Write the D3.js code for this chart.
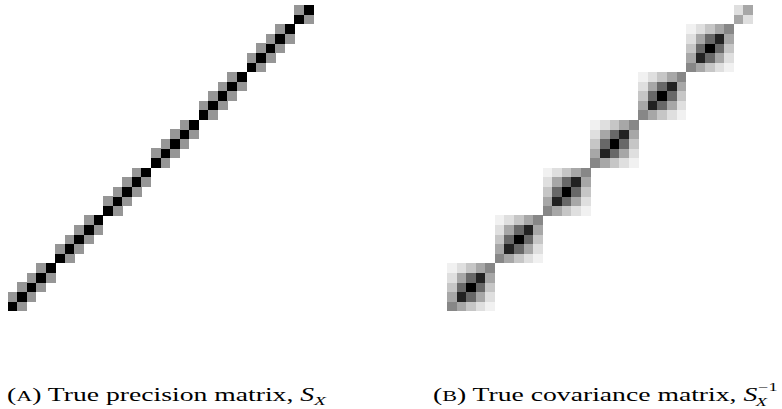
<!DOCTYPE html>
<html>
<head>
<meta charset="utf-8">
<script src="https://cdn.jsdelivr.net/npm/d3@7"></script>
<style>
  body { margin: 0; background: #fff; }
  text { font-family: "Liberation Serif", serif; fill: #000; }
</style>
</head>
<body>
<script>
// Page size, same as the reference picture.
var svg_width = 782;
var svg_height = 409;

// Diagonal blocks of the 32x32 matrices: six blocks of 5, then one of 2.
var block_sizes = [5, 5, 5, 5, 5, 5, 2];

// Precision matrix inside a block: diagonal and neighbour entries (shown as |value|).
var prec_diag = 2;
var prec_off = 1;

// Covariance blocks.
var cov_block5 = [
    [0.83, 0.67, 0.50, 0.33, 0.17],
    [0.67, 1.33, 1.00, 0.67, 0.33],
    [0.50, 1.00, 1.50, 1.00, 0.50],
    [0.33, 0.67, 1.00, 1.33, 0.67],
    [0.17, 0.33, 0.50, 0.67, 0.83]
];
var cov_block2 = [
    [0.67, 0.33],
    [0.33, 0.67]
];

// Caption words.
var caption_a = ["A", ") True precision matrix, "];
var caption_b = ["B", ") True covariance matrix, "];

// Where each panel sits.
var panels = [
    { left: 7.5, top: 5, size: 306 },
    { left: 447, top: 5, size: 306 }
];

var svg = d3.select("body")
    .append("svg")
    .attr("width", svg_width)
    .attr("height", svg_height);

// Build the cell lists from the blocks.
var n = d3.sum(block_sizes);
var prec_cells = [];
var cov_cells = [];
var start = 0;
block_sizes.forEach(function(b) {
    var block = b === 5 ? cov_block5 : cov_block2;
    for (var a = 0; a < b; a++) {
        for (var c = 0; c < b; c++) {
            var p = a === c ? prec_diag : (Math.abs(a - c) === 1 ? prec_off : 0);
            if (p > 0) prec_cells.push({ row: start + a, col: start + c, v: p });
            cov_cells.push({ row: start + a, col: start + c, v: block[a][c] });
        }
    }
    start += b;
});

// matplotlib "Greys" is the same 9 colours as the ColorBrewer scheme.
function greys(vmax) {
    return d3.scaleLinear()
        .domain(d3.range(9).map(function(k) { return vmax * k / 8; }))
        .range(d3.schemeGreys[9])
        .clamp(true);
}

function drawMatrix(panel, cells) {
    var x = d3.scaleBand()
        .domain(d3.range(n))
        .range([panel.left, panel.left + panel.size]);
    // row 0 sits at the bottom
    var y = d3.scaleBand()
        .domain(d3.range(n))
        .range([panel.top + panel.size, panel.top]);
    var color = greys(d3.max(cells, function(d) { return d.v; }));

    svg.append("g")
        .attr("shape-rendering", "crispEdges")
        .selectAll("rect")
        .data(cells)
        .enter()
        .append("rect")
            .attr("x", function(d) { return x(d.col); })
            .attr("y", function(d) { return y(d.row); })
            .attr("width", x.bandwidth() + 0.3)
            .attr("height", y.bandwidth() + 0.3)
            .attr("fill", function(d) { return color(d.v); });
}

drawMatrix(panels[0], prec_cells);
drawMatrix(panels[1], cov_cells);

// Captions under each panel. The reference type is wide, so the text
// gets stretched sideways to the width it has there.
var fs = 18;
var baseline = 401;

function captionStart(x, words) {
    var g = svg.append("g").attr("transform", "translate(" + x + "," + baseline + ")");
    var t = g.append("text").attr("font-size", fs);
    t.append("tspan").text("(");
    t.append("tspan").attr("font-size", fs * 0.8).text(words[0]);
    t.append("tspan").text(words[1]);
    var s = t.append("tspan").attr("font-style", "italic").text("S");
    return { g: g, t: t, s: s, x: x };
}

var capA = captionStart(7, caption_a);
capA.t.append("tspan").attr("font-style", "italic").attr("font-size", fs * 0.7)
    .attr("dy", 4).text("X");

// S with "-1" on top and "X" below, as separate text so they stack cleanly.
var capB = captionStart(433, caption_b);
var afterS = capB.s.node().getEndPositionOfChar(0).x;
capB.g.append("text")
    .attr("x", afterS + 0.5)
    .attr("y", -10)
    .attr("font-size", fs * 0.66)
    .text("\u22121");
capB.g.append("text")
    .attr("x", afterS - 1)
    .attr("y", 5)
    .attr("font-size", fs * 0.66)
    .attr("font-style", "italic")
    .text("X");

// Same sideways stretch for both, taken from caption (A): 7 .. 328 px.
var sx = 321 / capA.t.node().getBBox().width;
[capA, capB].forEach(function(c) {
    c.g.attr("transform", "translate(" + c.x + "," + baseline + ") scale(" + sx + ",1)");
});
</script>
</body>
</html>
